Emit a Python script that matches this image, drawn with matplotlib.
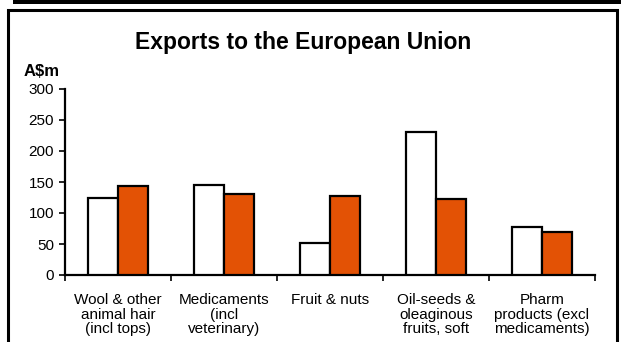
import numpy as np
import matplotlib
matplotlib.use('Agg')
from matplotlib import pyplot as plt
from matplotlib.patches import Rectangle

# Data (A$m)
categories = ['Wool & other\nanimal hair\n(incl tops)', 'Medicaments\n(incl\nveterinary)', 'Fruit & nuts',
              'Oil-seeds &\noleaginous\nfruits, soft', 'Pharm\nproducts (excl\nmedicaments)']
series_a = [125, 145, 51, 230, 77]   # white bars
series_b = [143, 130, 128, 122, 69]  # orange bars
y_ticks = [0, 50, 100, 150, 200, 250, 300]

plt.rcParams['font.family'] = ['Liberation Sans', 'DejaVu Sans']

W, H = 621, 342
fig = plt.figure(figsize=(W / 100, H / 100), dpi=100)

# Page decorations: black band on top and the box frame
fig.patches.append(Rectangle((13 / W, 1 - 3.5 / H), 1, 3.5 / H, transform=fig.transFigure,
                             facecolor='black', edgecolor='none'))
fig.patches.append(Rectangle((7.5 / W, -0.1), (617 - 7.5) / W, 1.1 - 10 / H, transform=fig.transFigure,
                             facecolor='none', edgecolor='black', linewidth=2.2))

# Axes position
x0, x1, y0, y1 = 65, 595, 275, 89
ax = fig.add_axes([x0 / W, 1 - y0 / H, (x1 - x0) / W, (y0 - y1) / H])

x = np.arange(len(categories))
bw = 0.283
ax.bar(x - bw / 2, series_a, width=bw, color='white', edgecolor='black', linewidth=1.6, zorder=3)
ax.bar(x + bw / 2, series_b, width=bw, color='#E35205', edgecolor='black', linewidth=1.6, zorder=3)

ax.set_xlim(-0.5, len(categories) - 0.5)
ax.set_ylim(0, 300)
ax.set_yticks(y_ticks)
ax.tick_params(axis='y', direction='out', length=4, width=1.2, labelsize=11, pad=4)

ax.set_xticks(x)
ax.set_xticklabels(categories, fontsize=11, linespacing=1.05, va='top')
ax.tick_params(axis='x', which='major', length=0, pad=13)
ax.set_xticks(np.arange(-0.5, len(categories)), minor=True)
ax.tick_params(axis='x', which='minor', direction='out', length=4, width=1.2)

for side in ['top', 'right']:
    ax.spines[side].set_visible(False)
ax.spines['left'].set_linewidth(1.6)
ax.spines['bottom'].set_linewidth(1.6)

fig.text(303 / W, 1 - 43 / H, 'Exports to the European Union', ha='center', va='center',
         fontsize=16.5, fontweight='bold')
fig.text(24 / W, 1 - 72 / H, 'A$m', ha='left', va='center', fontsize=12, fontweight='bold')

plt.savefig('out.png', dpi=100)
